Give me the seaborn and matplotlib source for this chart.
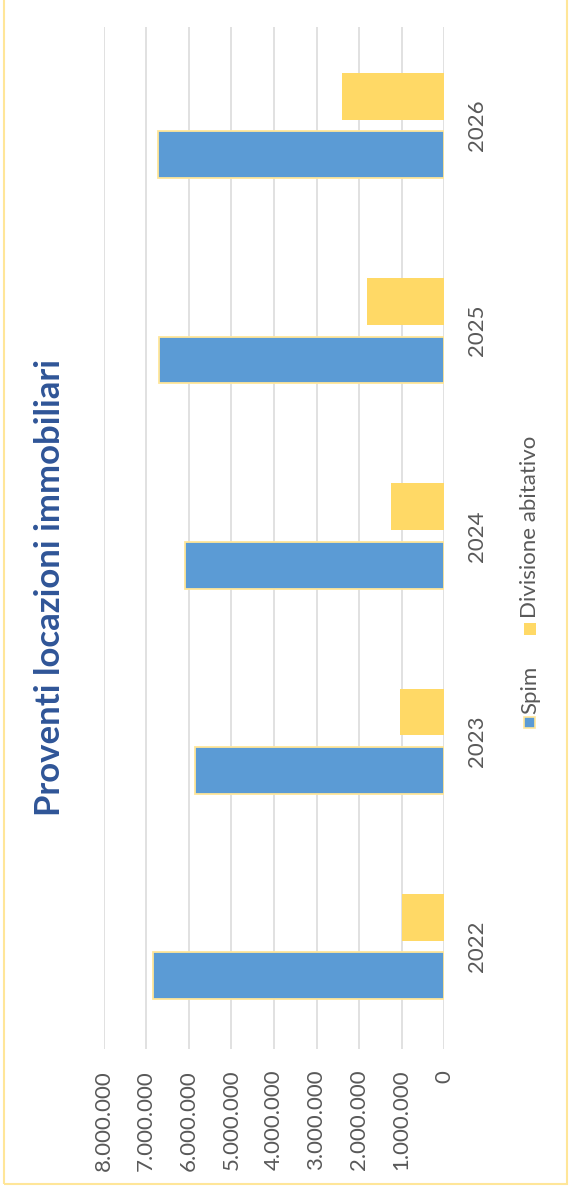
import numpy as np
import pandas as pd
import matplotlib
matplotlib.use('Agg')
import matplotlib.pyplot as plt
import seaborn as sns
from matplotlib.patches import Rectangle

# dati
anni = ['2022', '2023', '2024', '2025', '2026']
spim = [6830000, 5860000, 6080000, 6690000, 6710000]
divisione = [1000000, 1040000, 1240000, 1810000, 2400000]
serie = ['Spim', 'Divisione abitativo']
tick_valori = [0, 1000000, 2000000, 3000000, 4000000, 5000000, 6000000, 7000000, 8000000]
titolo = 'Proventi locazioni immobiliari'

col_spim = '#5B9BD5'
col_div = '#FFD966'
bordo = '#FFE699'

sns.set_theme(style='white')
plt.rcParams['font.family'] = ['Lato', 'DejaVu Sans']

df = pd.DataFrame({
    'Anno': anni * 2,
    'Valore': spim + divisione,
    'Serie': ['Spim'] * len(anni) + ['Divisione abitativo'] * len(anni),
})

W, H = 569, 1189
fig = plt.figure(figsize=(W / 100, H / 100), dpi=100)
ax = fig.add_axes([103.5 / W, 1 - 1049 / H, (444.3 - 103.5) / W, 1022 / H])

sns.barplot(data=df, y='Anno', x='Valore', hue='Serie', orient='h',
            order=anni[::-1], hue_order=['Divisione abitativo', 'Spim'],
            palette={'Spim': col_spim, 'Divisione abitativo': col_div},
            saturation=1, width=0.57, gap=0.2, errorbar=None, legend=False, ax=ax)

# bordi delle barre
for p in ax.containers[1]:
    p.set_edgecolor(bordo)
    p.set_linewidth(1.3)
for p in ax.containers[0]:
    p.set_edgecolor('none')

ax.set_xlim(8000000, 0)
ax.set_ylim(4.5, -0.48)
ax.set_xticks(tick_valori)
ax.set_xticklabels([f'{v:,}'.replace(',', '.') for v in tick_valori],
                   rotation=90, va='top', ha='center')
ax.xaxis.grid(True, color='#D9D9D9', linewidth=1.1)
ax.set_axisbelow(True)
for s in ax.spines.values():
    s.set_visible(False)
ax.set_xlabel('')
ax.set_ylabel('')
ax.yaxis.tick_right()
plt.setp(ax.get_yticklabels(), rotation=90, va='center', ha='left')
ax.tick_params(axis='x', length=0, pad=15, labelsize=16, labelcolor='#595959')
ax.tick_params(axis='y', length=0, pad=16, labelsize=16, labelcolor='#595959')

# titolo ruotato
fig.text(50 / W, 1 - 588 / H, titolo, rotation=90, ha='center', va='center',
         fontsize=25, fontweight='bold', color='#2F5597')

# legenda ruotata
fig.patches.append(Rectangle((524 / W, 1 - 728 / H), 11 / W, 11 / H,
                             transform=fig.transFigure, facecolor=col_spim,
                             edgecolor=bordo, linewidth=1.2))
fig.text(530 / W, 1 - 714 / H, 'Spim', rotation=90, ha='center', va='bottom',
         fontsize=16, color='#595959')
fig.patches.append(Rectangle((524 / W, 1 - 635 / H), 12 / W, 12 / H,
                             transform=fig.transFigure, facecolor=col_div,
                             edgecolor='none'))
fig.text(530 / W, 1 - 618 / H, 'Divisione abitativo', rotation=90, ha='center',
         va='bottom', fontsize=16, color='#595959')

# cornice esterna
fig.patches.append(Rectangle((4 / W, 1 - 1184 / H), 563 / W, 1190 / H,
                             transform=fig.transFigure, facecolor='none',
                             edgecolor=bordo, linewidth=1.5))

fig.savefig('out.png', dpi=100)
